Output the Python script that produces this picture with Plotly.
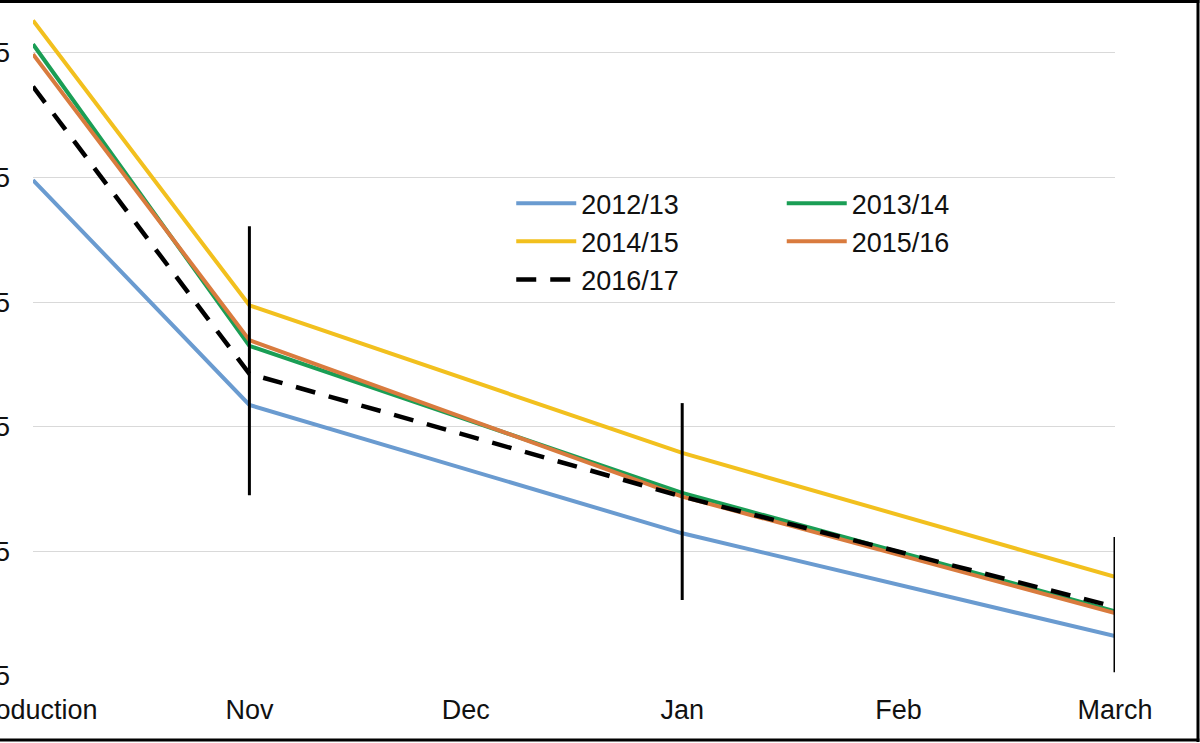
import plotly.graph_objects as go

# categorias del eje x
meses = ['Production', 'Nov', 'Dec', 'Jan', 'Feb', 'March']

# valores (Dec y Feb sin dato, la linea los une)
s_2012 = [54.8, 36.75, None, 26.45, None, 18.2]
s_2013 = [65.7, 41.5, None, 29.7, None, 20.2]
s_2014 = [67.6, 44.75, None, 32.9, None, 22.95]
s_2015 = [64.9, 41.95, None, 29.4, None, 20.05]
s_2016 = [62.3, 39.25, None, 29.4, None, 20.55]

# rango (barras negras) sobre 2016/17
rango_alto = [None, 51.1, None, 36.9, None, 26.15]
rango_bajo = [None, 29.5, None, 21.1, None, 15.3]

err_mas = [None if a is None else a - v for a, v in zip(rango_alto, s_2016)]
err_menos = [None if b is None else v - b for b, v in zip(rango_bajo, s_2016)]

fuente = 'Liberation Sans, Arial, sans-serif'

fig = go.Figure()

series = [
    ('2012/13', s_2012, '#6a9bd0', 'legend'),
    ('2013/14', s_2013, '#1a9e55', 'legend2'),
    ('2014/15', s_2014, '#f2c01e', 'legend'),
    ('2015/16', s_2015, '#d97b3e', 'legend2'),
]
for nombre, valores, color, ley in series:
    fig.add_trace(go.Scatter(x=meses, y=valores, name=nombre, mode='lines',
                             connectgaps=True, legend=ley,
                             line=dict(color=color, width=4)))

fig.add_trace(go.Scatter(
    x=meses, y=s_2016, name='2016/17', mode='lines', connectgaps=True,
    legend='legend',
    line=dict(color='black', width=4.5, dash='20px,14px'),
    error_y=dict(type='data', symmetric=False, array=err_mas,
                 arrayminus=err_menos, color='black', thickness=3, width=0)))

# marco negro de la imagen
marco = dict(type='line', xref='paper', yref='paper',
             line=dict(color='black', width=3), layer='above')
fig.add_shape(**marco, x0=-0.031, x1=1.078, y0=0.9978, y1=0.9978)
fig.add_shape(**marco, x0=1.0767, x1=1.0767, y0=-0.0975, y1=1.0)
fig.add_shape(**marco, x0=-0.031, x1=1.078, y0=-0.0947, y1=-0.0947)

fig.update_layout(
    width=1200, height=743,
    margin=dict(l=33, r=85, t=0, b=67, autoexpand=False),
    plot_bgcolor='white', paper_bgcolor='white',
    font=dict(family=fuente, size=27, color='#111111'),
    legend=dict(x=0.442, y=0.735, xanchor='left', yanchor='top',
                bgcolor='rgba(0,0,0,0)', font=dict(size=27),
                tracegroupgap=0, itemwidth=60),
    legend2=dict(x=0.692, y=0.735, xanchor='left', yanchor='top',
                 bgcolor='rgba(0,0,0,0)', font=dict(size=27),
                 tracegroupgap=0, itemwidth=60),
)
fig.update_xaxes(type='category', range=[0, 5], showgrid=False,
                 showline=False, zeroline=False, ticks='', automargin=False,
                 ticklabelstandoff=15)
fig.update_yaxes(range=[15, 69.25], dtick=10, tick0=15, showgrid=True,
                 gridcolor='#d9d9d9', gridwidth=1, zeroline=False,
                 showline=False, ticks='', automargin=False,
                 ticklabelstandoff=22)

# sin margen del body para que la figura quede en 0,0
fig.write_html('out.html', config={'displayModeBar': False},
               post_script="document.body.style.margin='0';")
